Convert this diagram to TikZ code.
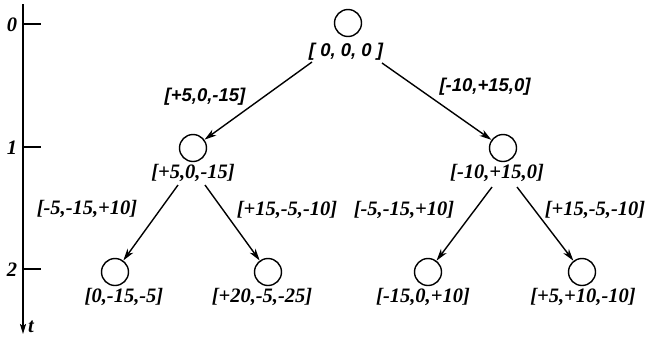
\documentclass[tikz,border=0pt]{standalone}
\usepackage{fontspec}
\setmainfont{Liberation Serif}
\newfontfamily\hsans{Liberation Sans}
\usetikzlibrary{arrows.meta}
\begin{document}
\begin{tikzpicture}[x=1pt,y=-1pt,
  st/.style={circle,draw,line width=1.4pt,minimum size=27pt,inner sep=0pt},
  lab/.style={font=\fontsize{20.5}{20.5}\selectfont\bfseries\itshape,inner sep=0pt},
  slab/.style={font=\fontsize{18.5}{18.5}\hsans\bfseries\itshape,inner sep=0pt},
  arr/.style={line width=1.4pt,-{Stealth[length=12pt,width=7pt,inset=3.5pt]}},
  tick/.style={line width=1.6pt}]
\useasboundingbox (0,0) rectangle (648,338);
% time axis
\coordinate (atop) at (23,4);
\coordinate (abot) at (23,334);
\draw[line width=1.7pt,-{Stealth[length=10pt,width=6pt,inset=2pt]}] (atop) -- (abot);
\foreach \y/\l in {24/0,147/1,269/2}{
  \coordinate (tk\l) at (23,\y);
  \coordinate (te\l) at (41,\y);
  \draw[tick] (tk\l) -- (te\l);
  \node[lab] (ax\l) at (12,\y+1) {\l};
}
\node[lab] (tl) at (31,327) {t};
% states
\node[st] (c0) at (348,23) {};
\node[slab] (l0) at (346,52) {[ 0, 0, 0 ]};
\node[st] (c1) at (193,148) {};
\node[lab] (l1) at (193,173) {[+5,0,-15]};
\node[st] (c2) at (503,148) {};
\node[lab] (l2) at (497,173) {[-10,+15,0]};
\node[st] (c3) at (115,272) {};
\node[lab] (l3) at (124,297) {[0,-15,-5]};
\node[st] (c4) at (268,272) {};
\node[lab] (l4) at (262,297) {[+20,-5,-25]};
\node[st] (c5) at (428,272) {};
\node[lab] (l5) at (423,297) {[-15,0,+10]};
\node[st] (c6) at (582,272) {};
\node[lab] (l6) at (583,297) {[+5,+10,-10]};
% edge starts
\coordinate (s01) at (312,62);
\coordinate (s02) at (382,63);
\coordinate (s13) at (178,185);
\coordinate (s14) at (205,185);
\coordinate (s25) at (492,187);
\coordinate (s26) at (517,187);
\draw[arr] (s01) -- (c1);
\draw[arr] (s02) -- (c2);
\draw[arr] (s13) -- (c3);
\draw[arr] (s14) -- (c4);
\draw[arr] (s25) -- (c5);
\draw[arr] (s26) -- (c6);
% edge labels
\node[slab] (e01) at (205,97) {[+5,0,-15]};
\node[slab] (e02) at (485,87) {[-10,+15,0]};
\node[lab] (e13) at (87,209) {[-5,-15,+10]};
\node[lab] (e14) at (287,210) {[+15,-5,-10]};
\node[lab] (e25) at (404,210) {[-5,-15,+10]};
\node[lab] (e26) at (595,210) {[+15,-5,-10]};
\end{tikzpicture}
\end{document}
